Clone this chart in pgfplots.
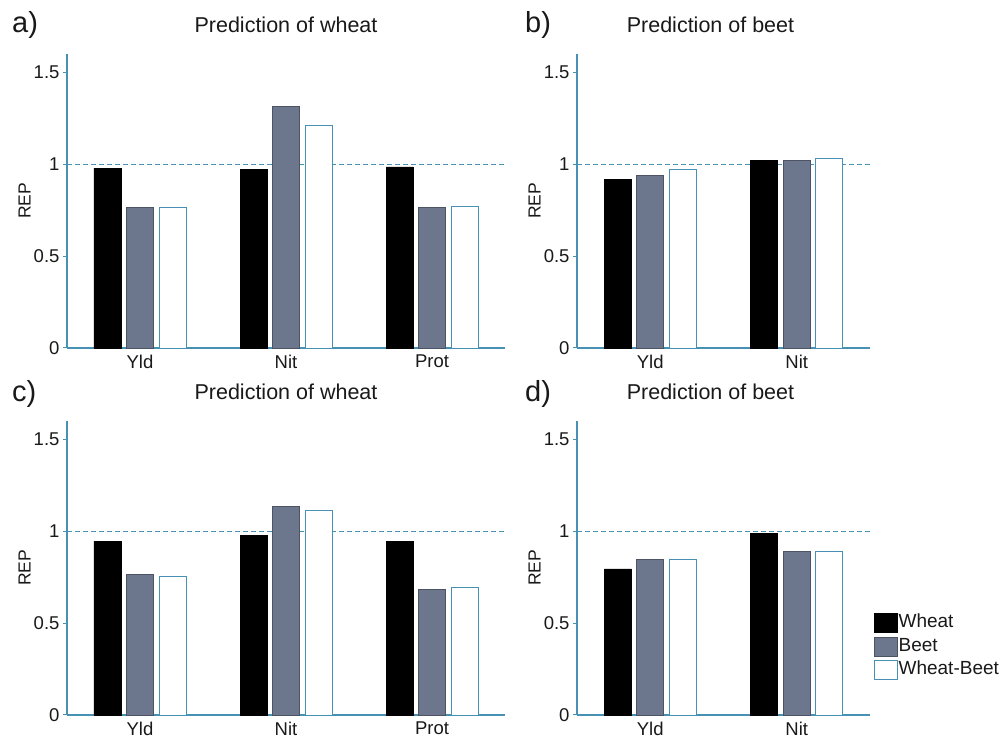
\documentclass[border=0pt]{standalone}
\usepackage{fontspec}
\setmainfont{Liberation Sans}
\usepackage{pgfplots}
\pgfplotsset{compat=1.18}
\definecolor{axiscol}{RGB}{70,145,180}
\definecolor{beetcol}{RGB}{108,118,140}
\definecolor{txtcol}{RGB}{25,25,25}
\pgfplotsset{
  panel/.style={
    scale only axis, height=294pt,
    ymin=0, ymax=1.6, enlargelimits=false,
    axis x line*=bottom, axis y line*=left,
    axis line style={draw=axiscol, line width=1.1pt, -},
    ytick={0,0.5,1,1.5}, yticklabels={0,0.5,1,1.5},
    tick align=outside, major tick length=4pt,
    ytick style={draw=axiscol, line width=1pt},
    xtick style={draw=none},
    /pgf/number format/assume math mode=true,
    tick label style={font=\fontsize{18.5}{22}\selectfont, text=txtcol},
    xticklabel style={inner sep=3pt},
    ylabel={REP},
    ylabel style={font=\fontsize{17.5}{20}\selectfont, text=txtcol, at={([xshift=-42.5pt]axis description cs:0,0.5)}, anchor=center},
    title style={font=\fontsize{21.5}{24}\selectfont, text=txtcol, at={([yshift=15pt]axis description cs:0.5,1)}, anchor=base},
    clip=false,
  },
  wheatbar/.style={ybar, bar width=27pt, bar shift=-32.5pt, fill=black, draw=black, line width=0.8pt},
  beetbar/.style={ybar, bar width=27pt, bar shift=0pt, fill=beetcol, draw=beetcol!70!black, line width=0.8pt},
  wbbar/.style={ybar, bar width=27pt, bar shift=32.5pt, fill=white, draw=axiscol, line width=0.8pt},
  refline/.style={draw=axiscol, line width=1pt, dash pattern=on 5pt off 3pt, forget plot},
}
\begin{document}
\begin{tikzpicture}
\useasboundingbox (0,0) rectangle (1002pt,738pt);
% ---- a)
\begin{axis}[panel, at={(67pt,390pt)}, anchor=origin, width=438pt,
  xmin=0.5, xmax=3.5, xtick={1,2,3}, xticklabels={Yld,Nit,Prot},
  title={Prediction of wheat}]
\addplot[refline] coordinates {(0.5,1) (3.5,1)};
\addplot[wheatbar] coordinates {(1,0.977) (2,0.971) (3,0.985)};
\addplot[beetbar] coordinates {(1,0.765) (2,1.315) (3,0.766)};
\addplot[wbbar] coordinates {(1,0.765) (2,1.210) (3,0.772)};
\end{axis}
% ---- b)
\begin{axis}[panel, at={(577pt,390pt)}, anchor=origin, width=293pt,
  xmin=0.5, xmax=2.5, xtick={1,2}, xticklabels={Yld,Nit},
  title={Prediction of beet},
  title style={at={([yshift=15pt,xshift=-13pt]axis description cs:0.5,1)}}]
\addplot[refline] coordinates {(0.5,1) (2.5,1)};
\addplot[wheatbar] coordinates {(1,0.918) (2,1.022)};
\addplot[beetbar] coordinates {(1,0.938) (2,1.022)};
\addplot[wbbar] coordinates {(1,0.971) (2,1.034)};
\end{axis}
% ---- c)
\begin{axis}[panel, at={(67pt,23pt)}, anchor=origin, width=438pt,
  xmin=0.5, xmax=3.5, xtick={1,2,3}, xticklabels={Yld,Nit,Prot},
  title={Prediction of wheat}]
\addplot[refline] coordinates {(0.5,1) (3.5,1)};
\addplot[wheatbar] coordinates {(1,0.946) (2,0.979) (3,0.946)};
\addplot[beetbar] coordinates {(1,0.766) (2,1.133) (3,0.683)};
\addplot[wbbar] coordinates {(1,0.753) (2,1.111) (3,0.695)};
\end{axis}
% ---- d)
\begin{axis}[panel, at={(577pt,23pt)}, anchor=origin, width=293pt,
  xmin=0.5, xmax=2.5, xtick={1,2}, xticklabels={Yld,Nit},
  title={Prediction of beet},
  title style={at={([yshift=15pt,xshift=-13pt]axis description cs:0.5,1)}},
  legend style={at={(axis description cs:1.0137,0.347)}, anchor=north west,
    draw=none, fill=none, inner sep=0pt, outer sep=0pt,
    font=\fontsize{19}{22}\selectfont, text=txtcol,
    row sep=3.5pt, column sep=0pt,
    nodes={inner sep=0.8pt, text height=14pt, text depth=4.5pt}},
  legend cell align=left,
  legend image code/.code={\draw[#1] (0pt,-9.5pt) rectangle (23pt,9.5pt);}]
\addplot[refline] coordinates {(0.5,1) (2.5,1)};
\addplot[wheatbar] coordinates {(1,0.795) (2,0.988)};
\addplot[beetbar] coordinates {(1,0.845) (2,0.892)};
\addplot[wbbar] coordinates {(1,0.847) (2,0.889)};
\legend{Wheat,Beet,Wheat-Beet}
\end{axis}
% panel letters
\node[anchor=base west, inner sep=0pt, font=\fontsize{29}{32}\selectfont, text=txtcol] at (12pt,705pt) {a)};
\node[anchor=base west, inner sep=0pt, font=\fontsize{29}{32}\selectfont, text=txtcol] at (525pt,705pt) {b)};
\node[anchor=base west, inner sep=0pt, font=\fontsize{29}{32}\selectfont, text=txtcol] at (12pt,336pt) {c)};
\node[anchor=base west, inner sep=0pt, font=\fontsize{29}{32}\selectfont, text=txtcol] at (525pt,336pt) {d)};
\end{tikzpicture}
\end{document}
